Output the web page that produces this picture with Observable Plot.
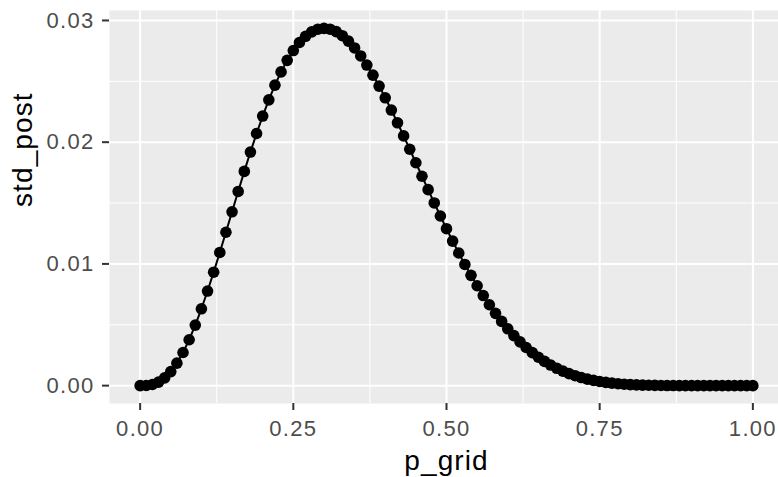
<!DOCTYPE html>
<html>
<head>
<meta charset="utf-8">
<script src="https://cdn.jsdelivr.net/npm/d3@7"></script>
<script src="https://cdn.jsdelivr.net/npm/@observablehq/plot@0.6"></script>
<style>
  html, body { margin: 0; padding: 0; background: #ffffff; overflow: hidden; }
  #chart svg { overflow: hidden; display: block; }
  #chart g[aria-label="x-axis tick label"] text,
  #chart g[aria-label="y-axis tick label"] text { letter-spacing: 1.3px; }
  #chart .axis-title { letter-spacing: 1.1px; }
</style>
</head>
<body>
<div id="chart"></div>
<script>
const p_grid = [
  0.00, 0.01, 0.02, 0.03, 0.04, 0.05, 0.06, 0.07, 0.08, 0.09,
  0.10, 0.11, 0.12, 0.13, 0.14, 0.15, 0.16, 0.17, 0.18, 0.19,
  0.20, 0.21, 0.22, 0.23, 0.24, 0.25, 0.26, 0.27, 0.28, 0.29,
  0.30, 0.31, 0.32, 0.33, 0.34, 0.35, 0.36, 0.37, 0.38, 0.39,
  0.40, 0.41, 0.42, 0.43, 0.44, 0.45, 0.46, 0.47, 0.48, 0.49,
  0.50, 0.51, 0.52, 0.53, 0.54, 0.55, 0.56, 0.57, 0.58, 0.59,
  0.60, 0.61, 0.62, 0.63, 0.64, 0.65, 0.66, 0.67, 0.68, 0.69,
  0.70, 0.71, 0.72, 0.73, 0.74, 0.75, 0.76, 0.77, 0.78, 0.79,
  0.80, 0.81, 0.82, 0.83, 0.84, 0.85, 0.86, 0.87, 0.88, 0.89,
  0.90, 0.91, 0.92, 0.93, 0.94, 0.95, 0.96, 0.97, 0.98, 0.99,
  1.00
];
const std_post = [
  0, 0.0000123, 0.0000917, 0.000288, 0.000635, 0.001152, 0.001849, 0.002724, 0.003770, 0.004972,
  0.006313, 0.007771, 0.009321, 0.010940, 0.012603, 0.014282, 0.015955, 0.017599, 0.019189, 0.020713,
  0.022146, 0.023477, 0.024686, 0.025774, 0.026722, 0.027530, 0.028190, 0.028700, 0.029064, 0.029281,
  0.029351, 0.029281, 0.029080, 0.028747, 0.028300, 0.027743, 0.027085, 0.026336, 0.025506, 0.024607,
  0.023648, 0.022639, 0.021594, 0.020515, 0.019420, 0.018311, 0.017202, 0.016100, 0.015007, 0.013937,
  0.012891, 0.011876, 0.010895, 0.009957, 0.009059, 0.008206, 0.007401, 0.006645, 0.005938, 0.005279,
  0.004671, 0.004111, 0.003599, 0.003133, 0.002712, 0.002332, 0.001993, 0.001692, 0.001426, 0.001193,
  0.000990, 0.000815, 0.000665, 0.000537, 0.000430, 0.000340, 0.000266, 0.000205, 0.000156, 0.000117,
  0.0000865, 0.0000627, 0.0000446, 0.0000310, 0.0000210, 0.0000139, 0.0000089, 0.0000055, 0.0000032, 0.0000018,
  0.0000010, 0.0000005, 0.0000002, 0.0000001, 0, 0, 0, 0, 0, 0,
  0
];
const xMajor = [0, 0.25, 0.5, 0.75, 1];
const xMinor = [0.125, 0.375, 0.625, 0.875];
const yMajor = [0, 0.01, 0.02, 0.03];
const yMinor = [0.005, 0.015, 0.025];
const xTitle = "p_grid";
const yTitle = "std_post";

const data = p_grid.map((p, i) => ({p_grid: p, std_post: std_post[i]}));

// ggplot-style 5% expansion of the data range
const [xmin, xmax] = d3.extent(p_grid);
const [ymin, ymax] = d3.extent(std_post);
const xpad = (xmax - xmin) * 0.05, ypad = (ymax - ymin) * 0.05;

const fmt = d3.format(".2f");

const chart = Plot.plot({
  width: 778,
  height: 477,
  marginLeft: 109,
  marginRight: -5,
  marginTop: 10,
  marginBottom: 74,
  style: {fontFamily: "'Liberation Sans', Arial, Helvetica, sans-serif", background: "#ffffff"},
  x: {domain: [xmin - xpad, xmax + xpad]},
  y: {domain: [ymin - ypad, ymax + ypad]},
  marks: [
    Plot.frame({fill: "#EBEBEB", stroke: null}),
    Plot.ruleX(xMinor, {stroke: "#ffffff", strokeWidth: 1}),
    Plot.ruleY(yMinor, {stroke: "#ffffff", strokeWidth: 1}),
    Plot.ruleX(xMajor, {stroke: "#ffffff", strokeWidth: 2}),
    Plot.ruleY(yMajor, {stroke: "#ffffff", strokeWidth: 2}),
    Plot.line(data, {x: "p_grid", y: "std_post", stroke: "#000000", strokeWidth: 2}),
    Plot.dot(data, {x: "p_grid", y: "std_post", fill: "#000000", r: 5.8, stroke: null}),
    Plot.axisX(xMajor, {tickSize: 7, tickPadding: 10, tickFormat: fmt, fontSize: 22,
      stroke: "#333333", fill: "#4D4D4D", strokeWidth: 2, label: null}),
    Plot.axisY(yMajor, {tickSize: 7, tickPadding: 8, tickFormat: fmt, fontSize: 22,
      stroke: "#333333", fill: "#4D4D4D", strokeWidth: 2, label: null}),
    Plot.text([xTitle], {frameAnchor: "bottom", text: d => d, dy: 66.5, lineAnchor: "bottom",
      fontSize: 28, fill: "#000000", className: "axis-title"}),
    Plot.text([yTitle], {frameAnchor: "left", text: d => d, dx: -78, rotate: -90, lineAnchor: "bottom",
      fontSize: 28, fill: "#000000", className: "axis-title"})
  ]
});
document.getElementById("chart").appendChild(chart);
</script>
</body>
</html>
